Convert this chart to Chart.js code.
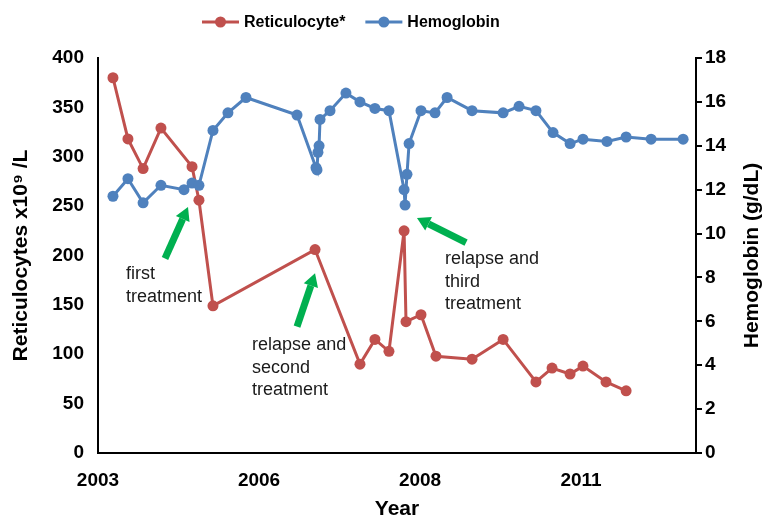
<!DOCTYPE html>
<html>
<head>
<meta charset="utf-8">
<script src="https://cdn.jsdelivr.net/npm/chart.js@4.4.1/dist/chart.umd.min.js"></script>
<style>
  body { margin: 0; background: #fff; }
</style>
</head>
<body>
<canvas id="chart" width="766" height="518"></canvas>
<script>
// x is measured in tick steps: 0 = "2003" tick, 1 = "2006" tick, ...
const xTickValues = [0, 1, 2, 3];
const xTickLabels = ["2003", "2006", "2008", "2011"];

const retX = [0.093, 0.186, 0.280, 0.391, 0.584, 0.627, 0.714, 1.348, 1.627, 1.720, 1.807,
  1.901, 1.913, 2.006, 2.099, 2.323, 2.516, 2.720, 2.820, 2.932, 3.012, 3.155, 3.280];
const retValues = [380, 318, 288, 329, 290, 256, 149, 206, 90, 115, 103,
  225, 133, 140, 98, 95, 115, 72, 86, 80, 88, 72, 63];

const hbX = [0.093, 0.186, 0.280, 0.391, 0.534, 0.584, 0.627, 0.714, 0.807, 0.919, 1.236,
  1.354, 1.360, 1.366, 1.373, 1.379, 1.441, 1.540, 1.627, 1.720, 1.807,
  1.901, 1.907, 1.919, 1.932, 2.006, 2.093, 2.168, 2.323, 2.516, 2.615, 2.720,
  2.826, 2.932, 3.012, 3.161, 3.280, 3.435, 3.634];
const hbValues = [11.7, 12.5, 11.4, 12.2, 12.0, 12.3, 12.2, 14.7, 15.5, 16.2, 15.4,
  13.0, 12.9, 13.7, 14.0, 15.2, 15.6, 16.4, 16.0, 15.7, 15.6,
  12.0, 11.3, 12.7, 14.1, 15.6, 15.5, 16.2, 15.6, 15.5, 15.8, 15.6,
  14.6, 14.1, 14.3, 14.2, 14.4, 14.3, 14.3];

// annotations, in x steps / reticulocyte units
const notes = [
  { lines: ["first", "treatment"], at: [0.174, 181] },
  { lines: ["relapse and", "second", "treatment"], at: [0.957, 109] },
  { lines: ["relapse and", "third", "treatment"], at: [2.155, 196] }
];
const arrows = [
  { from: [0.416, 197], to: [0.559, 249] },
  { from: [1.236, 128], to: [1.348, 182] },
  { from: [2.286, 213], to: [1.981, 238] }
];

const FONT = "'Liberation Sans', Arial, Helvetica, sans-serif";
const RED = "#c0504d";
const BLUE = "#4f81bd";
const GREEN = "#00b050";

const extras = {
  id: "extras",
  afterDraw(chart) {
    const ctx = chart.ctx;
    const sx = chart.scales.x, sy = chart.scales.yRet;
    const px = p => [sx.getPixelForValue(p[0]), sy.getPixelForValue(p[1])];
    ctx.save();

    // green arrows
    ctx.fillStyle = GREEN;
    ctx.strokeStyle = GREEN;
    arrows.forEach(a => {
      const [x1, y1] = px(a.from);
      const [x2, y2] = px(a.to);
      const ang = Math.atan2(y2 - y1, x2 - x1);
      const head = 13, hw = 7.5;
      const bx = x2 - head * Math.cos(ang), by = y2 - head * Math.sin(ang);
      ctx.lineWidth = 7;
      ctx.beginPath();
      ctx.moveTo(x1, y1);
      ctx.lineTo(bx, by);
      ctx.stroke();
      ctx.beginPath();
      ctx.moveTo(x2, y2);
      ctx.lineTo(bx + hw * Math.sin(ang), by - hw * Math.cos(ang));
      ctx.lineTo(bx - hw * Math.sin(ang), by + hw * Math.cos(ang));
      ctx.closePath();
      ctx.fill();
    });

    // note text
    ctx.font = "18px " + FONT;
    ctx.fillStyle = "#1a1a1a";
    ctx.textAlign = "left";
    ctx.textBaseline = "middle";
    notes.forEach(n => {
      const [x, y] = px(n.at);
      n.lines.forEach((t, i) => ctx.fillText(t, x, y + i * 22.5));
    });

    // legend: line with a marker, then the label
    ctx.font = "bold 16px " + FONT;
    ctx.fillStyle = "#000";
    let lx = 202;
    const ly = 22;
    chart.data.datasets.forEach(ds => {
      ctx.strokeStyle = ds.borderColor;
      ctx.lineWidth = 3;
      ctx.beginPath();
      ctx.moveTo(lx, ly);
      ctx.lineTo(lx + 37, ly);
      ctx.stroke();
      ctx.fillStyle = ds.borderColor;
      ctx.beginPath();
      ctx.arc(lx + 18.5, ly, 5.5, 0, Math.PI * 2);
      ctx.fill();
      ctx.fillStyle = "#000";
      ctx.fillText(ds.label, lx + 42, ly + 1);
      lx += 42 + ctx.measureText(ds.label).width + 20;
    });

    // right axis title reads bottom to top
    const area = chart.chartArea;
    ctx.font = "bold 21px " + FONT;
    ctx.textAlign = "center";
    ctx.translate(chart.width - 14, (area.top + area.bottom) / 2);
    ctx.rotate(-Math.PI / 2);
    ctx.fillText("Hemoglobin (g/dL)", 0, 0);
    ctx.restore();
  }
};

const tickFont = { family: FONT, size: 19, weight: "bold" };
const titleFont = { family: FONT, size: 21, weight: "bold" };

new Chart(document.getElementById("chart"), {
  type: "line",
  data: {
    datasets: [{
      label: "Reticulocyte*",
      data: retX.map((x, i) => ({ x: x, y: retValues[i] })),
      yAxisID: "yRet",
      borderColor: RED,
      backgroundColor: RED,
      borderWidth: 3,
      pointRadius: 5.5,
      pointBorderWidth: 0,
      order: 1
    }, {
      label: "Hemoglobin",
      data: hbX.map((x, i) => ({ x: x, y: hbValues[i] })),
      yAxisID: "yHb",
      borderColor: BLUE,
      backgroundColor: BLUE,
      borderWidth: 3,
      pointRadius: 5.5,
      pointBorderWidth: 0,
      order: 0
    }]
  },
  options: {
    responsive: false,
    animation: false,
    layout: { padding: { top: 58, left: 0, right: 0, bottom: 0 } },
    plugins: {
      legend: { display: false },
      tooltip: { enabled: false }
    },
    scales: {
      x: {
        type: "linear",
        min: 0,
        max: 3.714,
        afterBuildTicks: scale => { scale.ticks = xTickValues.map(v => ({ value: v })); },
        afterFit: scale => { scale.height = 65; },
        grid: { display: false, drawTicks: false },
        border: { display: true, color: "#000", width: 2 },
        ticks: {
          color: "#000",
          font: tickFont,
          padding: 16,
          maxRotation: 0,
          autoSkip: false,
          callback: (v, i) => xTickLabels[i]
        },
        title: { display: true, text: "Year", color: "#000", font: titleFont, padding: { top: 0, bottom: -4 } }
      },
      yRet: {
        position: "left",
        min: 0,
        max: 400,
        afterFit: scale => { scale.width = 98; },
        grid: { display: false, drawTicks: false },
        border: { display: true, color: "#000", width: 2 },
        ticks: { stepSize: 50, color: "#000", font: tickFont, padding: 14 },
        title: { display: true, text: "Reticulocytes x10⁹ /L", color: "#000", font: titleFont, padding: { top: 9, bottom: 0 } }
      },
      yHb: {
        position: "right",
        min: 0,
        max: 18,
        afterFit: scale => { scale.width = 70; },
        grid: { display: true, drawOnChartArea: false, drawTicks: true, tickLength: 6, color: "#000", lineWidth: 2 },
        border: { display: true, color: "#000", width: 2 },
        ticks: { stepSize: 2, color: "#000", font: tickFont, padding: 3 }
      }
    }
  },
  plugins: [extras]
});
</script>
</body>
</html>
